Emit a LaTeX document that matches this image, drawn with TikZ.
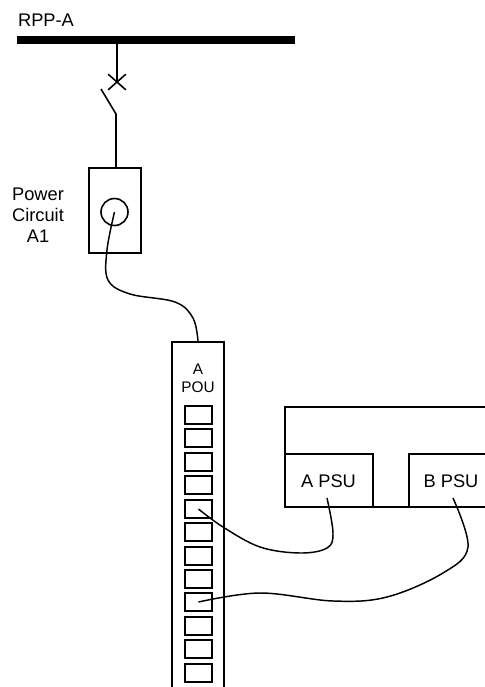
\documentclass[tikz,border=0pt]{standalone}
\usepackage{fontspec}
\setmainfont{Liberation Sans}
\usetikzlibrary{shapes.misc}

\begin{document}
\begin{tikzpicture}[x=0.75pt, y=-0.75pt, line width=1.2pt,
    every node/.style={font=\fontsize{13.7}{15.8}\selectfont},
    box/.style={draw, inner sep=0pt, minimum width=#1*0.75pt, align=center},
    socket/.style={box=27, minimum height=13.5pt},
    cable/.style={line width=1.1pt, smooth, tension=0.6}]

  \clip (0,0) rectangle (485,687);

  %% Panel bus and breaker
  \node[fill=black, inner sep=0pt, minimum width=208.5pt, minimum height=6pt] (bus) at (156,40) {};
  \node (rpp) at (46,20) {RPP-A};
  \coordinate (tap) at (117,40);
  \node[cross out, draw, inner sep=0pt, minimum width=12pt, minimum height=10.5pt] (breaker) at (117,82) {};
  \coordinate (bladetop) at (101,89);
  \coordinate (hinge) at (116,114);

  %% Power circuit
  \node[box=52, minimum height=63.75pt] (circuit) at (115,210.5) {};
  \node[draw, circle, inner sep=0pt, minimum size=20.25pt] (recept) at (114.5,212) {};
  \node[align=center] (circuitlbl) at (38,215) {Power\\Circuit\\A1};

  %% POU strip
  \node[box=52, minimum height=285pt] (pou) at (198,532) {};
  \node[align=center, font=\fontsize{11.5}{13.5}\selectfont] (poulbl) at (198,378) {A\\POU};
  \foreach \n/\y in {1/415,2/438,3/462,4/485,5/509,6/532,7/556,8/579,9/602,10/626,11/649,12/673}
    \node[socket] (outlet\n) at (198.5,\y) {};

  %% Server and its supplies
  \node[box=230, minimum height=75pt] (server) at (400,457) {};
  \node[box=87.5, minimum height=39.75pt] (apsu) at (329,480.5) {};
  \node[box=90, minimum height=39.75pt] (bpsu) at (454,480.5) {};
  \node (apsulbl) at (328.5,481) {A PSU};
  \node (bpsulbl) at (451,481) {B PSU};
  \coordinate (aplug) at (327,498);
  \coordinate (bplug) at (453,498);

  %% Wires
  \draw (tap) -- (breaker.center);
  \draw (bladetop) -- (hinge) -- (hinge |- circuit.north);

  %% Power cords
  \draw[cable] plot coordinates {(recept.center) (107,250) (108,280) (130,294) (175,302) (193,318) (pou.north)};
  \draw[cable] plot coordinates {(outlet5.center) (223,527) (260,547) (300,553) (327,548) (333,533) (aplug)};
  \draw[cable] plot coordinates {(outlet9.center) (260,593) (333,601) (387,597) (443,573) (468,547) (bplug)};
\end{tikzpicture}
\end{document}
